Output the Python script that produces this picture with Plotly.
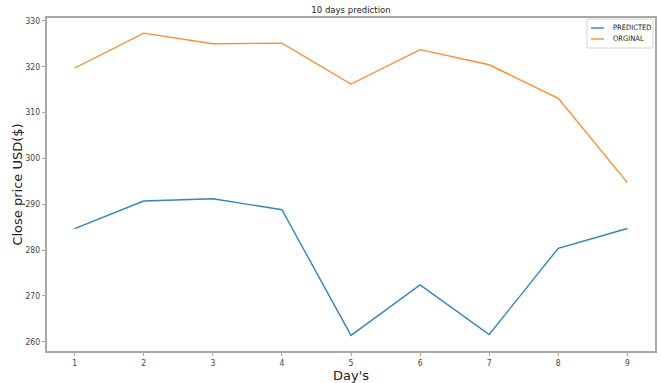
import plotly.graph_objects as go

days = [1, 2, 3, 4, 5, 6, 7, 8, 9]
predicted = [284.7, 290.7, 291.2, 288.8, 261.4, 272.4, 261.6, 280.4, 284.7]
original = [319.7, 327.3, 325.0, 325.1, 316.2, 323.7, 320.4, 313.1, 294.7]
series_names = ["PREDICTED", "ORGINAL"]
series_colors = ["#2f86c0", "#ff8c2a"]

FONT = "DejaVu Sans"
SMALL = "DejaVu Sans Condensed, DejaVu Sans"
SPINE = "#a8a8a8"
TICK = "#444444"

fig = go.Figure()
for name, vals, col in zip(series_names, [predicted, original], series_colors):
    fig.add_trace(go.Scatter(x=days, y=vals, mode="lines", name=name,
                             line=dict(color=col, width=1.4), showlegend=False))

# compact legend box in the upper-right corner of the axes
fig.add_shape(type="rect", xref="paper", yref="paper", x0=0.888, x1=0.9967, y0=0.910, y1=0.997,
              line=dict(color="#d6d6d6", width=1), fillcolor="rgba(255,255,255,0.8)")
for i, (name, col) in enumerate(zip(series_names, series_colors)):
    yy = 0.970 - i * 0.033
    fig.add_shape(type="line", xref="paper", yref="paper", x0=0.8947, x1=0.9161, y0=yy, y1=yy,
                  line=dict(color=col, width=1.4))
    fig.add_annotation(text=name, xref="paper", yref="paper", x=0.9276, y=yy,
                       xanchor="left", yanchor="middle", showarrow=False,
                       font=dict(family=SMALL, size=7.5, color="#222222"))

axis_common = dict(showline=True, linecolor=SPINE, linewidth=1.5, mirror=True,
                   showgrid=False, zeroline=False, ticks="outside", ticklen=3.5,
                   tickcolor=SPINE, automargin=False,
                   tickfont=dict(family=SMALL, size=8.5, color=TICK))

fig.update_layout(
    width=661, height=383,
    margin=dict(l=47, r=6, t=18, b=32),
    paper_bgcolor="white", plot_bgcolor="white",
    font=dict(family=FONT, color="#222222"),
    title=dict(text="10 days prediction", x=0.531, xanchor="center", y=0.975, yanchor="middle",
               font=dict(family=SMALL, size=9.5, color="#222222")),
    xaxis=dict(range=[0.6, 9.4], tickvals=days,
               title=dict(text="Day's", font=dict(family=FONT, size=13), standoff=3),
               **axis_common),
    yaxis=dict(range=[258.0, 330.6], tickvals=[260, 270, 280, 290, 300, 310, 320, 330],
               title=dict(text="Close price USD($)", font=dict(family=FONT, size=13), standoff=0),
               **axis_common),
    showlegend=False,
)

fig.write_html("out.html")
